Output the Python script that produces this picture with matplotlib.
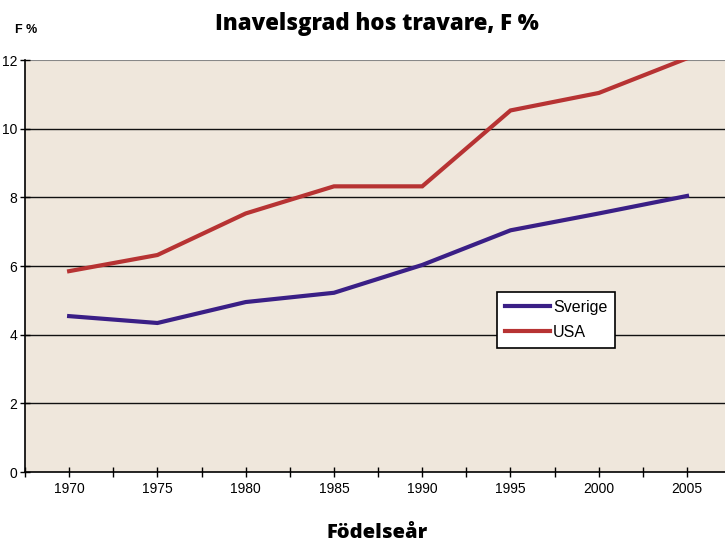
import matplotlib
matplotlib.use("Agg")
import matplotlib.pyplot as plt
from matplotlib.ticker import FixedLocator

years = ["1970", "1975", "1980", "1985", "1990", "1995", "2000", "2005"]
sverige = [4.54, 4.34, 4.95, 5.22, 6.03, 7.04, 7.53, 8.04]
usa = [5.85, 6.32, 7.53, 8.32, 8.32, 10.53, 11.04, 12.05]
yticks = [0, 2, 4, 6, 8, 10, 12]

W, H = 725, 543
fig = plt.figure(figsize=(W / 100, H / 100), dpi=100)
ax = fig.add_axes([25 / W, (H - 472) / H, 700 / W, 412 / H])
ax.set_facecolor("#efe7dc")

x = list(range(len(years)))
ax.plot(x, sverige, color="#3a1f86", lw=3, label="Sverige", clip_on=True, solid_joinstyle="miter")
ax.plot(x, usa, color="#b73333", lw=3, label="USA", clip_on=True, solid_joinstyle="miter")

ax.set_xlim(-0.5, 7.43)
ax.set_ylim(0, 12)
ax.set_yticks(yticks)
ax.set_yticklabels([str(v) for v in yticks], fontfamily="Liberation Sans", fontsize=10)
ax.set_xticks(x)
ax.set_xticklabels(years, fontfamily="Liberation Sans", fontsize=10)
ax.xaxis.set_minor_locator(FixedLocator([i + 0.5 for i in range(-1, 7)]))
ax.tick_params(axis="x", which="both", direction="inout", length=7, width=1, pad=4)
ax.tick_params(axis="y", direction="inout", length=7, width=1, pad=2)

for v in yticks[1:-1]:
    ax.axhline(v, color="#111111", lw=1, zorder=0.5)
ax.axhline(12, color="#888888", lw=1.5, zorder=0.5)

for s in ["top", "right"]:
    ax.spines[s].set_visible(False)
ax.spines["left"].set_linewidth(1.2)
ax.spines["bottom"].set_linewidth(1.2)

leg = ax.legend(loc="upper left", bbox_to_anchor=((497 - 25) / 700, (472 - 292) / 412),
                borderaxespad=0, frameon=True, fancybox=False,
                prop={"family": "Liberation Sans", "size": 11.5},
                handlelength=2.8, handletextpad=0.2, borderpad=0.5, labelspacing=0.6)
leg.get_frame().set_edgecolor("black")
leg.get_frame().set_linewidth(1.2)
leg.get_frame().set_alpha(1)

fig.text(377 / W, 1 - 24 / H, "Inavelsgrad hos travare, F %", ha="center", va="center",
         fontfamily="Open Sans", fontweight=800, fontsize=16)
fig.text(377 / W, 1 - 533 / H, "Födelseår", ha="center", va="center",
         fontfamily="Open Sans", fontweight=800, fontsize=14.5)
fig.text(15 / W, 1 - 30 / H, "F %", ha="left", va="center",
         fontfamily="Liberation Sans", fontweight="bold", fontsize=9)

fig.savefig("out.png", dpi=100)
